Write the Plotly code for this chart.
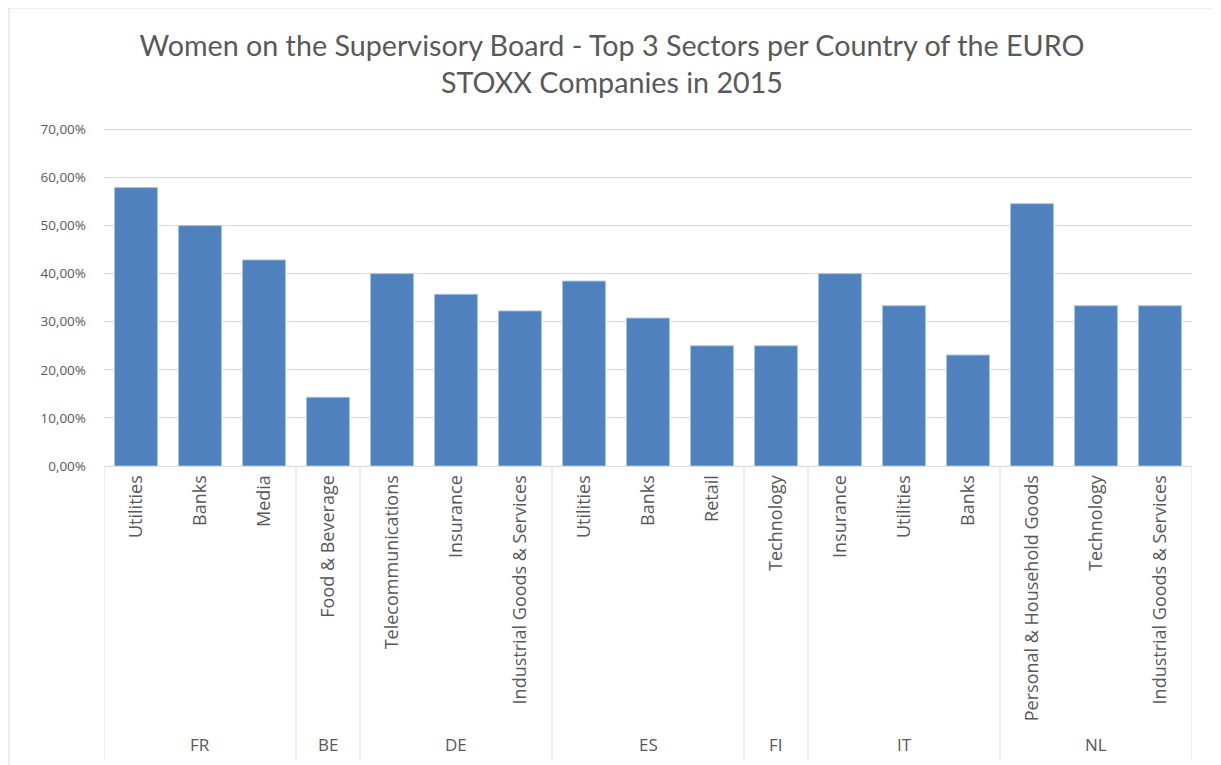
import plotly.graph_objects as go

# Top 3 sectors per country, share of women on the supervisory board
countries = ["FR", "FR", "FR", "BE", "DE", "DE", "DE", "ES", "ES", "ES",
             "FI", "IT", "IT", "IT", "NL", "NL", "NL"]
sectors = ["Utilities", "Banks", "Media", "Food & Beverage", "Telecommunications",
           "Insurance", "Industrial Goods & Services", "Utilities", "Banks", "Retail",
           "Technology", "Insurance", "Utilities", "Banks",
           "Personal & Household Goods", "Technology", "Industrial Goods & Services"]
share = [0.5790, 0.5000, 0.4286, 0.1429, 0.4000, 0.3571, 0.3226, 0.3846, 0.3077, 0.2500,
         0.2500, 0.4000, 0.3333, 0.2308, 0.5455, 0.3333, 0.3333]

grey = "#595959"
line_grey = "#d9d9d9"
pos = list(range(len(sectors)))

fig = go.Figure()
fig.add_trace(go.Bar(
    x=pos,
    y=share,
    marker=dict(color="#4f81bd", line=dict(color="#a9c1e0", width=1)),
    width=0.67,
))

fig.update_layout(
    width=1208, height=757,
    margin=dict(l=96, r=24, t=120, b=299, autoexpand=False),
    paper_bgcolor="white", plot_bgcolor="white",
    separators=",.",
    showlegend=False,
    font=dict(family="Open Sans, Arial, sans-serif", size=14, color=grey),
    title=dict(
        text="Women on the Supervisory Board - Top 3 Sectors per Country of the EURO<br>STOXX Companies in 2015",
        x=0.5, xanchor="center", y=0.937, yanchor="middle",
        font=dict(family="Lato, Open Sans, sans-serif", size=28.7, color=grey),
    ),
    yaxis=dict(
        range=[0, 0.703], dtick=0.1, tickformat=".2%",
        gridcolor=line_grey, gridwidth=1, zeroline=False,
        showline=False, ticks="", automargin=False, ticklabelstandoff=17,
        tickfont=dict(size=13.5, color=grey),
    ),
    xaxis=dict(
        range=[-0.5, len(sectors) - 0.5],
        tickvals=pos, ticktext=sectors, tickangle=-90,
        showline=True, linecolor=line_grey, linewidth=1,
        showgrid=False, zeroline=False, ticks="", automargin=False,
        ticklabelstandoff=1,
        tickfont=dict(family="Open Sans, sans-serif", size=18, color=grey),
    ),
)

# country groups: dividers and labels under the sector labels
bounds = [-0.5]
for i in range(1, len(countries)):
    if countries[i] != countries[i - 1]:
        bounds.append(i - 0.5)
bounds.append(len(countries) - 0.5)

for b in bounds:
    fig.add_shape(type="line", xref="x", yref="paper", x0=b, x1=b, y0=0, y1=-0.869,
                  line=dict(color=line_grey, width=1))

for a, b in zip(bounds[:-1], bounds[1:]):
    fig.add_annotation(x=(a + b) / 2, xref="x", y=-0.823, yref="paper",
                       text=countries[int(a + 0.5)], showarrow=False,
                       yanchor="middle", font=dict(size=17, color=grey))

# chart border like the Excel chart area
fig.add_shape(type="rect", xref="paper", yref="paper",
              x0=-0.0873, x1=1.0211, y0=-0.95, y1=1.355,
              line=dict(color=line_grey, width=1), layer="below")

fig.write_html("out.html")
